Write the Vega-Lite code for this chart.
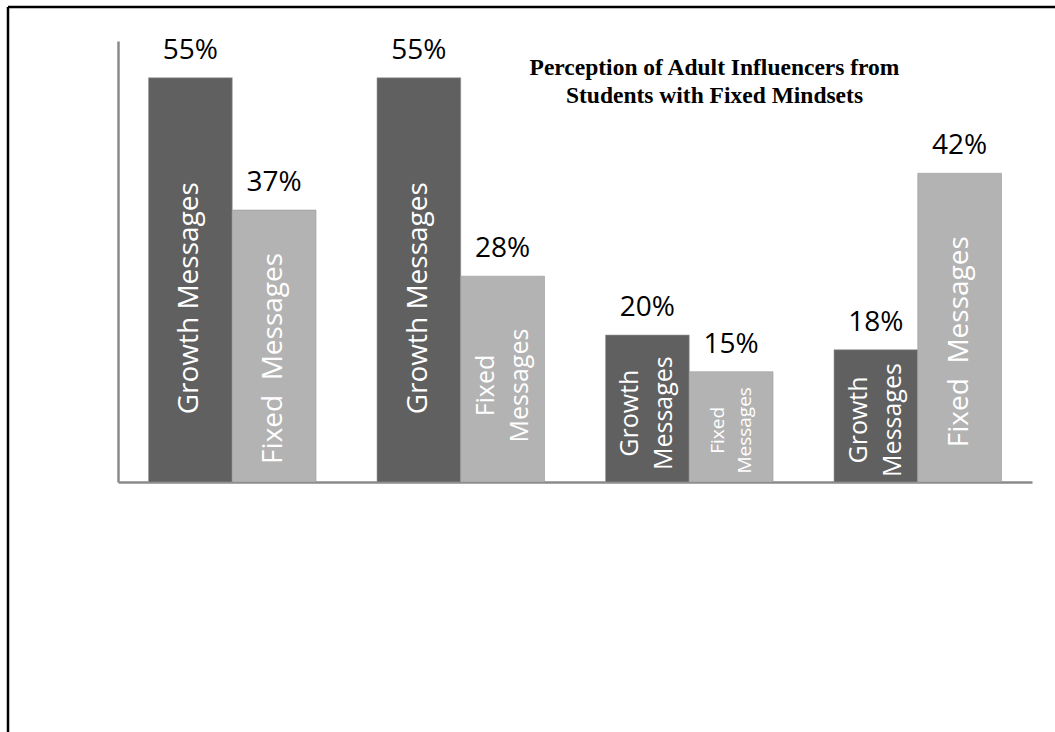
{
  "$schema": "https://vega.github.io/schema/vega-lite/v6.json",
  "width": 1047,
  "height": 725,
  "autosize": {"type": "none"},
  "padding": {"left": 8, "top": 7, "right": 0, "bottom": 0},
  "background": "white",
  "config": {
    "view": {"stroke": "black", "strokeWidth": 2.5, "strokeDash": [1047, 1772, 725, 0]},
    "font": "Open Sans"
  },
  "title": {
    "text": ["Perception of Adult Influencers from", "Students with Fixed Mindsets"],
    "font": "Liberation Serif",
    "fontSize": 23.5,
    "fontWeight": "bold",
    "color": "black",
    "anchor": "middle",
    "frame": "group",
    "baseline": "top",
    "offset": 0,
    "lineHeight": 28,
    "dx": 183,
    "dy": 100
  },
  "data": {
    "values": [
      {"group": "A", "type": "Growth", "value": 0.55, "label": "Growth Messages"},
      {"group": "A", "type": "Fixed", "value": 0.37, "label": "Fixed\u00a0 Messages"},
      {"group": "B", "type": "Growth", "value": 0.55, "label": "Growth Messages"},
      {"group": "B", "type": "Fixed", "value": 0.28, "label": ["Fixed", "Messages"]},
      {"group": "C", "type": "Growth", "value": 0.20, "label": ["Growth", "Messages"]},
      {"group": "C", "type": "Fixed", "value": 0.15, "label": ["Fixed", "Messages"]},
      {"group": "D", "type": "Growth", "value": 0.18, "label": ["Growth", "Messages"]},
      {"group": "D", "type": "Fixed", "value": 0.42, "label": "Fixed\u00a0 Messages"}
    ]
  },
  "encoding": {
    "x": {
      "field": "group",
      "type": "nominal",
      "scale": {"range": [110, 1024], "paddingInner": 0.267, "paddingOuter": 0.1335},
      "axis": {"labels": false, "ticks": false, "title": null, "domainColor": "#8a8a8a", "domainWidth": 2.5, "offset": -250, "grid": false}
    },
    "xOffset": {"field": "type", "type": "nominal", "scale": {"domain": ["Growth", "Fixed"], "paddingInner": 0, "paddingOuter": 0}}
  },
  "layer": [
    {
      "mark": {"type": "bar", "stroke": "#9a9a9a", "strokeWidth": 0.6},
      "encoding": {
        "y": {
          "field": "value",
          "type": "quantitative",
          "scale": {"domain": [0, 0.6], "range": [475, 34], "nice": false, "zero": true},
          "axis": {"labels": false, "ticks": false, "title": null, "grid": false, "domainColor": "#8a8a8a", "domainWidth": 2.5, "offset": -110, "orient": "left"}
        },
        "color": {
          "field": "type",
          "type": "nominal",
          "scale": {"domain": ["Growth", "Fixed"], "range": ["#606060", "#b3b3b3"]},
          "legend": null
        }
      }
    },
    {
      "mark": {"type": "text", "fontSize": 28, "color": "black", "baseline": "alphabetic", "dy": -19, "font": "Open Sans"},
      "encoding": {
        "y": {"field": "value", "type": "quantitative", "scale": {"domain": [0, 0.6], "range": [475, 34], "nice": false}, "axis": null},
        "text": {"field": "value", "type": "quantitative", "format": ".0%"}
      }
    },
    {
      "transform": [{"filter": "!isArray(datum.label)"}],
      "mark": {"type": "text", "fontSize": 28, "color": "white", "angle": 270, "align": "center", "baseline": "middle", "font": "Open Sans"},
      "encoding": {
        "y": {"field": "value", "type": "quantitative", "scale": {"domain": [0, 1.32], "range": [475, 34], "nice": false}, "axis": null},
        "text": {"field": "label"}
      }
    },
    {
      "transform": [{"filter": "isArray(datum.label) && !(datum.group == 'C' && datum.type == 'Fixed')"}],
      "mark": {"type": "text", "fontSize": 25, "lineHeight": 34, "dy": -17, "color": "white", "angle": 270, "align": "center", "baseline": "middle", "font": "Open Sans"},
      "encoding": {
        "y": {"field": "value", "type": "quantitative", "scale": {"domain": [0, 1.28], "range": [475, 34], "nice": false}, "axis": null},
        "text": {"field": "label"}
      }
    },
    {
      "transform": [{"filter": "datum.group == 'C' && datum.type == 'Fixed'"}],
      "mark": {"type": "text", "fontSize": 19, "lineHeight": 27, "dy": -13.5, "color": "white", "angle": 270, "align": "center", "baseline": "middle", "font": "Open Sans"},
      "encoding": {
        "y": {"field": "value", "type": "quantitative", "scale": {"domain": [0, 1.28], "range": [475, 34], "nice": false}, "axis": null},
        "text": {"field": "label"}
      }
    }
  ],
  "resolve": {"scale": {"y": "independent"}}
}
